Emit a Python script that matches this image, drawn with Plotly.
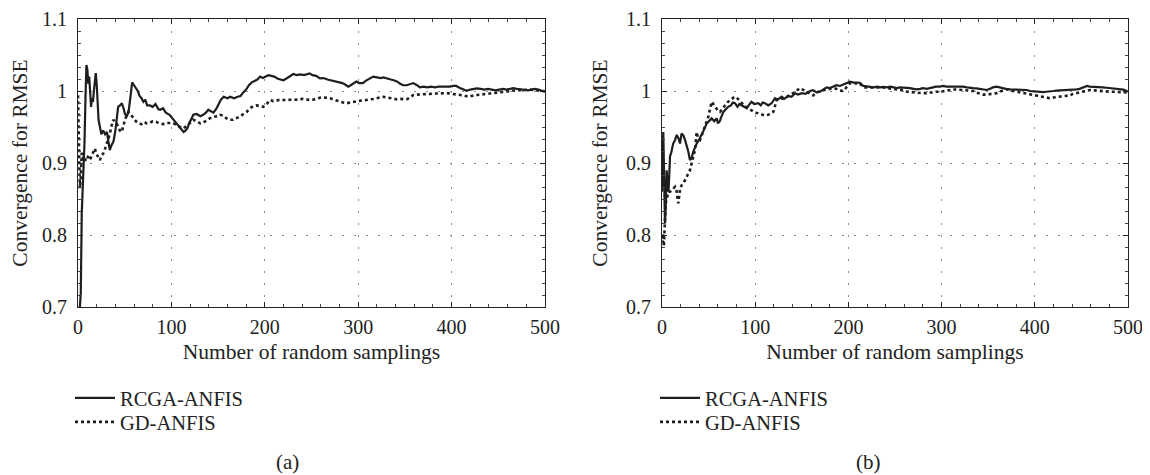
import plotly.graph_objects as go
from plotly.subplots import make_subplots

# ---------------- data ----------------
a_rcga_x = [0, 1, 2, 3, 4, 5, 6, 7, 8, 9, 10, 11, 12, 13, 14, 15, 16, 17, 18, 19, 20, 21, 22, 23.5, 25, 27, 29, 31, 33, 34, 36, 38, 40, 43, 45, 47, 49, 50, 52, 54, 56, 58, 60, 62, 64, 66, 68, 70, 72, 74, 77, 80, 83, 86, 88, 91, 94, 98, 101, 104, 107, 110, 113, 115, 117, 119, 121, 123.5, 127, 131, 134, 137, 139.5, 142, 145, 148, 150, 153, 156, 160, 163, 167, 171, 174, 177, 180, 183, 186, 189, 192, 195, 198, 201, 204, 207, 210, 214, 217, 220, 224, 227, 230.5, 234, 238, 242, 245, 248, 251, 255, 259, 263, 267, 271, 275, 279, 283, 286, 289.4, 292, 295, 298, 301, 305, 308, 312, 316, 320, 324, 327, 331, 335, 338, 342, 345, 348, 352, 356, 359, 363, 366, 370, 374, 378, 382, 386, 390, 394, 398, 402, 405, 409, 413, 416, 420, 424, 427, 431, 435, 439, 443, 447, 451, 455, 459, 463, 466, 470, 474, 478, 482, 486, 489, 493, 497, 500]
a_rcga_y = [0.69, 0.69, 0.70, 0.72, 0.83, 0.86, 0.90, 0.93, 0.99, 1.036, 1.03, 1.01, 1.02, 0.99, 0.978, 0.99, 0.985, 1.00, 1.015, 1.025, 1.01, 0.99, 0.96, 0.95, 0.94, 0.945, 0.94, 0.943, 0.925, 0.918, 0.925, 0.93, 0.945, 0.978, 0.98, 0.983, 0.975, 0.969, 0.965, 0.97, 0.99, 1.012, 1.008, 1.004, 1.0, 0.993, 0.99, 0.985, 0.988, 0.98, 0.98, 0.978, 0.982, 0.975, 0.974, 0.976, 0.97, 0.967, 0.962, 0.957, 0.952, 0.948, 0.943, 0.945, 0.948, 0.955, 0.96, 0.967, 0.968, 0.965, 0.967, 0.97, 0.974, 0.972, 0.97, 0.975, 0.98, 0.988, 0.992, 0.99, 0.992, 0.99, 0.992, 0.993, 0.998, 1.002, 1.008, 1.012, 1.014, 1.016, 1.02, 1.018, 1.02, 1.022, 1.021, 1.02, 1.017, 1.016, 1.015, 1.018, 1.021, 1.0236, 1.022, 1.023, 1.022, 1.023, 1.0245, 1.022, 1.021, 1.0176, 1.018, 1.016, 1.015, 1.014, 1.012, 1.011, 1.009, 1.006, 1.008, 1.011, 1.013, 1.011, 1.011, 1.014, 1.017, 1.02, 1.019, 1.018, 1.019, 1.018, 1.016, 1.015, 1.013, 1.01, 1.008, 1.008, 1.01, 1.011, 1.008, 1.005, 1.006, 1.005, 1.006, 1.005, 1.006, 1.006, 1.005, 1.006, 1.007, 1.007, 1.004, 1.002, 1.0004, 1.002, 1.003, 1.0037, 1.003, 1.002, 1.003, 1.002, 1.001, 1.002, 1.003, 1.002, 1.003, 1.004, 1.003, 1.002, 1.002, 1.001, 1.002, 1.003, 1.002, 1.0, 1.0]

a_gd_x = [0, 0.5, 1, 1.5, 2, 3, 4, 5, 6, 7.5, 9, 11, 12.8, 14, 16, 18, 20, 22, 23.5, 25, 27, 29, 32, 34, 36, 37.8, 40, 41.4, 43, 45, 46.8, 48, 50.3, 52, 53.9, 56, 59.2, 62, 64.6, 68, 71, 73.5, 77, 80, 84, 87, 91, 95, 99, 102, 105.7, 109, 112.7, 116, 120, 123.4, 127, 131, 134, 138, 141, 145, 149, 152, 155, 159, 162, 166, 170, 174, 177, 180.6, 184, 187.7, 191, 194, 198.4, 202, 205.6, 209, 213, 217, 220, 224, 228, 232, 236, 240, 244, 248.4, 252, 256, 260, 263, 266, 270, 274, 277, 281, 284, 287.6, 291, 295, 299, 302, 306, 309, 312.6, 316, 320, 324, 327, 331, 334, 338, 341, 345, 349, 352, 356, 359, 363, 367, 370, 373, 377, 381, 385, 388, 391, 395, 398, 402, 405, 409, 412, 415, 418, 421, 424, 427, 431, 434, 438, 441, 445, 448, 452, 455, 459, 462, 466, 469.7, 473, 477, 480, 484, 488, 491, 494, 497.5, 500]
a_gd_y = [0.994, 0.96, 0.92, 0.87, 0.865, 0.88, 0.914, 0.91, 0.905, 0.902, 0.91, 0.908, 0.904, 0.908, 0.915, 0.92, 0.912, 0.906, 0.904, 0.91, 0.913, 0.92, 0.932, 0.94, 0.952, 0.96, 0.957, 0.955, 0.95, 0.945, 0.943, 0.95, 0.96, 0.966, 0.971, 0.968, 0.962, 0.958, 0.955, 0.954, 0.957, 0.955, 0.956, 0.958, 0.957, 0.955, 0.954, 0.955, 0.956, 0.955, 0.953, 0.95, 0.948, 0.951, 0.956, 0.96, 0.958, 0.955, 0.956, 0.96, 0.962, 0.964, 0.965, 0.967, 0.966, 0.962, 0.96, 0.96, 0.962, 0.965, 0.968, 0.971, 0.976, 0.979, 0.98, 0.979, 0.978, 0.982, 0.9875, 0.986, 0.987, 0.988, 0.9875, 0.9875, 0.988, 0.988, 0.988, 0.989, 0.988, 0.9875, 0.988, 0.99, 0.991, 0.991, 0.991, 0.99, 0.988, 0.9865, 0.985, 0.984, 0.983, 0.984, 0.985, 0.986, 0.9865, 0.987, 0.988, 0.9885, 0.989, 0.99, 0.991, 0.992, 0.991, 0.99, 0.989, 0.9885, 0.989, 0.989, 0.9885, 0.991, 0.9944, 0.995, 0.995, 0.9955, 0.9958, 0.996, 0.9965, 0.9963, 0.9965, 0.9968, 0.997, 0.9965, 0.996, 0.9958, 0.995, 0.994, 0.993, 0.992, 0.993, 0.994, 0.9944, 0.995, 0.9955, 0.9955, 0.9958, 0.997, 0.998, 0.9985, 0.999, 0.9995, 1.0, 1.0, 1.001, 1.001, 1.0015, 1.002, 1.002, 1.0015, 1.001, 1.0005, 1.0, 0.9995]

b_rcga_x = [0, 0.5, 1, 1.4, 2, 2.5, 3.2, 4, 5, 6, 7, 8, 8.6, 10, 12, 14, 15.8, 17.5, 19.3, 21, 23, 24.7, 26.5, 28.2, 30, 32, 33.6, 35.5, 37.2, 40, 42.6, 45, 48, 50, 53.3, 56, 58.7, 60, 62, 64, 65.8, 68, 71, 74, 76, 78.3, 81, 83, 85.5, 88, 90.9, 93, 96, 99, 103.3, 106, 108, 110.5, 114, 117.6, 121.2, 124, 128.4, 131, 135.5, 139, 142.7, 146, 150, 154, 158.8, 162, 166, 169.5, 173, 176.7, 180, 184, 187.4, 191, 194, 198, 201.7, 205, 208.9, 212.4, 216, 220, 223, 227, 231, 234, 237.5, 241, 245, 249, 252, 255, 259, 263, 266, 270, 273, 277, 280, 284, 287, 291, 294, 298, 301.8, 305, 309, 312, 316, 319.7, 323, 327, 330, 334, 337.6, 341, 345, 348.4, 352, 355, 359, 362, 366, 369, 373.4, 377, 380, 384, 388, 391.3, 395, 398, 402, 405, 409, 412, 416, 420, 423, 427, 430.6, 434, 438, 441, 445, 448, 452, 455.7, 459, 463, 466, 470, 473, 477, 480, 484, 487.9, 491, 495, 498.6, 500]
b_rcga_y = [0.86, 0.90, 0.93, 0.943, 0.90, 0.85, 0.816, 0.84, 0.89, 0.87, 0.86, 0.89, 0.909, 0.915, 0.927, 0.932, 0.939, 0.935, 0.927, 0.941, 0.938, 0.932, 0.925, 0.916, 0.904, 0.908, 0.916, 0.922, 0.927, 0.933, 0.939, 0.946, 0.955, 0.958, 0.962, 0.958, 0.962, 0.955, 0.958, 0.965, 0.971, 0.974, 0.978, 0.98, 0.984, 0.983, 0.978, 0.982, 0.98, 0.978, 0.976, 0.98, 0.985, 0.982, 0.983, 0.98, 0.984, 0.983, 0.98, 0.983, 0.99, 0.988, 0.992, 0.989, 0.993, 0.992, 0.9968, 0.995, 0.997, 0.996, 1.0, 1.001, 0.998, 0.999, 1.002, 1.005, 1.004, 1.006, 1.008, 1.007, 1.009, 1.0107, 1.013, 1.012, 1.0115, 1.0115, 1.007, 1.006, 1.005, 1.005, 1.006, 1.005, 1.0057, 1.005, 1.006, 1.005, 1.004, 1.005, 1.005, 1.004, 1.004, 1.003, 1.0023, 1.003, 1.004, 1.003, 1.004, 1.005, 1.006, 1.006, 1.007, 1.006, 1.006, 1.007, 1.007, 1.007, 1.006, 1.005, 1.005, 1.004, 1.0037, 1.003, 1.002, 1.0014, 1.003, 1.005, 1.006, 1.005, 1.004, 1.003, 1.0023, 1.002, 1.002, 1.002, 1.001, 1.0014, 1.0, 0.9995, 0.999, 0.999, 0.9985, 0.999, 0.999, 1.0, 1.0005, 1.001, 1.0014, 1.002, 1.002, 1.002, 1.0023, 1.003, 1.005, 1.007, 1.006, 1.006, 1.0055, 1.005, 1.005, 1.0045, 1.004, 1.004, 1.0037, 1.003, 1.002, 1.0, 0.9995]

b_gd_x = [0, 0.7, 1.4, 2, 2.5, 3, 4, 5, 6, 7, 8.6, 10, 12, 14, 15.5, 16.5, 17.5, 18.5, 19.5, 21, 23, 25, 26.5, 28, 30, 31.8, 33.5, 35.4, 37.2, 38.5, 40.8, 42.5, 44, 46, 48, 49.7, 51.5, 53.3, 55, 57, 59, 60.5, 62.2, 64, 66, 67.6, 70, 73, 76, 78, 80, 82, 85.5, 88, 91, 94.4, 97, 100, 103.3, 106, 110, 114, 117, 119.4, 121, 123, 126, 130.6, 134, 137, 140, 142.7, 145, 148, 151, 154, 157, 160, 162.3, 165, 169.5, 173, 177, 180, 183.8, 187, 190, 194.6, 197, 199, 201.7, 205, 208, 212, 216, 219, 223, 227, 230, 234, 237.5, 241, 245, 248, 252, 255.4, 259, 263, 266, 269.7, 273, 277, 280, 284, 287, 291, 294, 298.4, 302, 305, 309, 312, 316, 319.7, 323, 327, 330, 334, 337, 341, 344.7, 348, 352, 355, 359, 362, 366, 369.8, 373, 377, 380, 384, 387, 391, 395, 398.4, 402, 405, 409, 412.7, 416, 420, 423.5, 427, 430, 434, 437.8, 441, 445, 448.5, 452, 455, 459.2, 463, 466, 470, 473.6, 477, 480, 484, 487.9, 491, 495, 498.6, 500]
b_gd_y = [0.80, 0.79, 0.802, 0.784, 0.80, 0.83, 0.844, 0.85, 0.855, 0.86, 0.86, 0.862, 0.865, 0.867, 0.862, 0.852, 0.844, 0.855, 0.864, 0.869, 0.872, 0.877, 0.881, 0.884, 0.89, 0.9, 0.908, 0.918, 0.943, 0.935, 0.932, 0.938, 0.944, 0.95, 0.957, 0.964, 0.975, 0.985, 0.982, 0.978, 0.975, 0.972, 0.971, 0.974, 0.978, 0.98, 0.984, 0.9875, 0.99, 0.992, 0.991, 0.988, 0.983, 0.98, 0.977, 0.974, 0.972, 0.97, 0.969, 0.968, 0.966, 0.967, 0.969, 0.971, 0.978, 0.9875, 0.988, 0.99, 0.992, 0.994, 0.996, 0.9985, 1.001, 1.004, 1.002, 1.0, 0.9985, 0.996, 0.994, 0.997, 1.0, 1.001, 1.002, 1.003, 1.004, 1.003, 1.001, 1.0, 1.004, 1.008, 1.011, 1.011, 1.0105, 1.011, 1.005, 1.005, 1.005, 1.006, 1.005, 1.005, 1.005, 1.004, 1.004, 1.003, 1.002, 1.0014, 1.001, 0.999, 0.9985, 0.998, 0.998, 0.997, 0.997, 0.997, 0.998, 0.998, 0.999, 0.999, 1.0, 1.001, 1.0014, 1.002, 1.002, 1.002, 1.001, 1.001, 1.0, 1.0, 0.998, 0.996, 0.995, 0.995, 0.996, 0.997, 0.997, 0.999, 1.001, 1.0023, 1.001, 1.0, 0.999, 0.998, 0.997, 0.996, 0.995, 0.994, 0.993, 0.992, 0.991, 0.99, 0.99, 0.991, 0.9915, 0.992, 0.993, 0.993, 0.994, 0.996, 0.997, 0.998, 0.999, 1.0, 1.0014, 1.001, 1.0005, 1.0, 1.0, 0.9995, 0.999, 0.999, 0.999, 0.9985, 0.998, 0.998, 0.9975]

series_names = ["RCGA-ANFIS", "GD-ANFIS"]
panel_labels = ["(a)", "(b)"]
x_title = "Number of random samplings"
y_title = "Convergence for RMSE"
x_ticks = [0, 100, 200, 300, 400, 500]
y_ticks = [0.7, 0.8, 0.9, 1.0, 1.1]
y_tick_text = ["0.7", "0.8", "0.9", "1", "1.1"]

# ---------------- figure ----------------
# The page body has an 8px margin, so the figure is sized to fit the
# 1150x475 window and every page-pixel position is shifted by that margin.
PAGE_W, PAGE_H, OFF = 1150, 475, 8
W, H = PAGE_W - OFF, PAGE_H - OFF


def px(x):
    return (x - OFF) / W


def py(y):
    return 1 - (y - OFF) / H


FONT = "Liberation Serif, Times New Roman, serif"
INK = "#1e1e1e"

fig = make_subplots(rows=1, cols=2)

panels = [
    (a_rcga_x, a_rcga_y, a_gd_x, a_gd_y, ("legend", "legend2")),
    (b_rcga_x, b_rcga_y, b_gd_x, b_gd_y, ("legend3", "legend4")),
]
for i, (rx, ry, gx, gy, legs) in enumerate(panels, start=1):
    fig.add_trace(go.Scatter(x=rx, y=ry, mode="lines", name=series_names[0],
                             line=dict(color=INK, width=2.2), legend=legs[0]),
                  row=1, col=i)
    fig.add_trace(go.Scatter(x=gx, y=gy, mode="lines", name=series_names[1],
                             line=dict(color=INK, width=2.6, dash="dot"), legend=legs[1]),
                  row=1, col=i)

y_dom = [py(307), py(19)]
x_doms = [[px(78), px(545)], [px(662), px(1128)]]

axis_common = dict(
    showline=True, linecolor="#222", linewidth=1.2, mirror="allticks",
    ticks="inside", ticklen=5, tickcolor="#222", tickwidth=1,
    showgrid=True, gridcolor="#8a8a8a", gridwidth=1, griddash="1.5px,10.5px",
    zeroline=False, automargin=False,
    tickfont=dict(family=FONT, size=20, color="#222"),
    title_font=dict(family=FONT, size=21.5, color="#222"),
)

for i in (1, 2):
    fig.update_xaxes(
        range=[0, 500], tickmode="array", tickvals=x_ticks,
        domain=x_doms[i - 1], title_text=x_title, title_standoff=6,
        ticklabelstandoff=2,
        minor=dict(ticks="inside", ticklen=3, dtick=20, tickcolor="#444", showgrid=False),
        **axis_common, row=1, col=i)
    fig.update_yaxes(
        range=[0.7, 1.1], tickmode="array", tickvals=y_ticks, ticktext=y_tick_text,
        domain=y_dom, title_text=y_title, title_standoff=12,
        ticklabelstandoff=6,
        minor=dict(ticks="inside", ticklen=3, dtick=0.1 / 6, tick0=0.7, tickcolor="#444", showgrid=False),
        **axis_common, row=1, col=i)

legend_common = dict(
    xanchor="left", yanchor="middle", orientation="v",
    font=dict(family=FONT, size=20.5, color="#222"),
    bgcolor="rgba(0,0,0,0)", borderwidth=0, itemwidth=40,
    tracegroupgap=0,
)
fig.update_layout(
    width=W, height=H,
    margin=dict(l=0, r=0, t=0, b=0),
    paper_bgcolor="white", plot_bgcolor="white",
    font=dict(family=FONT, color="#222"),
    showlegend=True,
    legend=dict(x=px(70), y=py(398), **legend_common),
    legend2=dict(x=px(70), y=py(422), **legend_common),
    legend3=dict(x=px(655), y=py(398), **legend_common),
    legend4=dict(x=px(655), y=py(422), **legend_common),
)

for lab, cx in zip(panel_labels, [287, 868]):
    fig.add_annotation(text=lab, x=px(cx), y=py(462), xref="paper", yref="paper",
                       xanchor="center", yanchor="middle", showarrow=False,
                       font=dict(family=FONT, size=21, color="#222"))

fig.write_html("out.html")
